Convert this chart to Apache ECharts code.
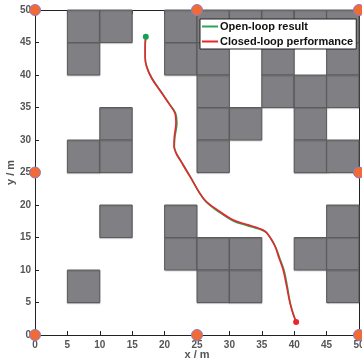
<!DOCTYPE html>
<html>
<head>
<meta charset="utf-8">
<script src="https://cdn.jsdelivr.net/npm/echarts@6/dist/echarts.min.js"></script>
<style>
  html, body { margin: 0; padding: 0; background: #fff; }
  #chart { width: 362px; height: 364px; }
</style>
</head>
<body>
<div id="chart"></div>
<script>
// Obstacle cells: lower-left corner of each occupied 5 m x 5 m square
const obstacleX = [5, 10, 20, 25, 30, 35, 40, 45,
                   5, 20, 25, 35, 45,
                   25, 35, 40, 45,
                   10, 25, 30, 40,
                   5, 10, 25, 40, 45,
                   10, 20, 45,
                   20, 25, 30, 40, 45,
                   5, 25, 30, 45];
const obstacleY = [45, 45, 45, 45, 45, 45, 45, 45,
                   40, 40, 40, 40, 40,
                   35, 35, 35, 35,
                   30, 30, 30, 30,
                   25, 25, 25, 25, 25,
                   15, 15, 15,
                   10, 10, 10, 10, 10,
                   5, 5, 5, 5];

// Landmark beacons around the map border
const beaconX = [0, 25, 50, 0, 50, 0, 25, 50];
const beaconY = [0, 0, 0, 25, 25, 50, 50, 50];

// Trajectories
const openLoopX = [17.1, 17.0, 17.0, 17.25, 18.05, 19.55, 20.85, 21.7, 21.9, 21.6, 21.5, 21.85, 22.45, 23.95, 26.1, 28.5, 30.6, 32.7, 34.6, 35.65, 36.45, 37.15, 37.7, 38.45, 38.95, 39.4, 39.85, 40.3];
const openLoopY = [45.9, 44.5, 42.7, 41.3, 39.5, 37.3, 35.4, 34.1, 32.6, 30.5, 29.0, 27.9, 26.9, 24.4, 20.8, 18.85, 17.55, 16.85, 16.3, 15.8, 14.8, 13.5, 12.0, 9.9, 7.4, 4.9, 3.3, 2.0];
const closedLoopX = [17.1, 17.0, 17.0, 17.2, 18.0, 19.5, 20.8, 21.6, 21.75, 21.5, 21.45, 21.8, 22.4, 23.9, 26.1, 28.5, 30.6, 32.7, 34.6, 35.6, 36.4, 37.1, 37.6, 38.3, 38.85, 39.35, 39.8, 40.3];
const closedLoopY = [45.9, 44.5, 42.7, 41.3, 39.5, 37.3, 35.4, 34.1, 32.6, 30.5, 29.0, 27.9, 26.9, 24.4, 20.9, 19.0, 17.7, 17.0, 16.4, 15.9, 14.8, 13.5, 12.0, 10.0, 7.4, 4.9, 3.3, 2.0];

const startPoint = [17.1, 45.9];
const goalPoint = [40.3, 2.0];

const CELL = 5;
const labelFont = 'Liberation Sans, Arial, sans-serif';

const zip = (xs, ys) => xs.map((x, i) => [x, ys[i]]);

const chart = echarts.init(document.getElementById('chart'), null, { renderer: 'canvas' });

const axisCommon = {
  type: 'value', min: 0, max: 50, interval: 5,
  axisLine: { show: true, onZero: false, lineStyle: { color: '#222', width: 1 } },
  axisTick: { show: true, inside: true, length: 4, lineStyle: { color: '#222' } },
  splitLine: { show: false },
  axisLabel: { show: true, color: '#555', fontWeight: 'bold', fontSize: 10, fontFamily: labelFont }
};

chart.setOption({
  animation: false,
  grid: { left: 35, right: 3, top: 10, bottom: 29, containLabel: false, outerBoundsMode: 'none' },
  xAxis: [
    Object.assign({}, axisCommon, {
      position: 'bottom',
      axisLabel: Object.assign({}, axisCommon.axisLabel, { margin: 5 }),
      name: 'x / m', nameLocation: 'middle', nameGap: 14, nameMoveOverlap: false,
      nameTextStyle: { color: '#555', fontWeight: 'bold', fontSize: 11, fontFamily: labelFont }
    }),
    Object.assign({}, axisCommon, { position: 'top', axisLabel: { show: false } })
  ],
  yAxis: [
    Object.assign({}, axisCommon, {
      position: 'left',
      axisLabel: Object.assign({}, axisCommon.axisLabel, { margin: 4 }),
      name: 'y / m', nameLocation: 'middle', nameGap: 19, nameMoveOverlap: false,
      nameTextStyle: { color: '#555', fontWeight: 'bold', fontSize: 11, fontFamily: labelFont }
    }),
    Object.assign({}, axisCommon, { position: 'right', axisLabel: { show: false } })
  ],
  legend: {
    show: true,
    orient: 'vertical',
    left: 200, top: 19,
    backgroundColor: '#fff',
    borderColor: '#222', borderWidth: 1,
    padding: [2, 3, 2, 2],
    itemGap: 4,
    itemWidth: 16, itemHeight: 2,
    icon: 'rect',
    textStyle: { color: '#111', fontWeight: 'bold', fontSize: 11, fontFamily: labelFont, padding: [0, 0, 0, -3] },
    data: ['Open-loop result', 'Closed-loop performance']
  },
  series: [
    {
      type: 'custom',
      name: 'obstacles',
      data: zip(obstacleX, obstacleY),
      z: 1,
      renderItem: function (params, api) {
        const x = api.value(0), y = api.value(1);
        const p0 = api.coord([x, y + CELL]);
        const p1 = api.coord([x + CELL, y]);
        return {
          type: 'rect',
          shape: { x: p0[0], y: p0[1], width: p1[0] - p0[0], height: p1[1] - p0[1] },
          style: {
            fill: '#808084', stroke: '#5c5c5f', lineWidth: 1,
            shadowColor: 'rgba(0,0,0,0.18)', shadowOffsetX: 0, shadowOffsetY: 1, shadowBlur: 1
          }
        };
      }
    },
    {
      type: 'line',
      name: 'Open-loop result',
      data: zip(openLoopX, openLoopY),
      smooth: 0.35,
      showSymbol: false, symbol: 'none',
      lineStyle: { color: '#2aa55a', width: 1.6 },
      itemStyle: { color: '#2aa55a' },
      z: 3
    },
    {
      type: 'line',
      name: 'Closed-loop performance',
      data: zip(closedLoopX, closedLoopY),
      smooth: 0.35,
      showSymbol: false, symbol: 'none',
      lineStyle: { color: '#e8262b', width: 1.6 },
      itemStyle: { color: '#e8262b' },
      z: 4
    },
    {
      type: 'scatter',
      name: 'start',
      data: [startPoint],
      symbolSize: 6,
      itemStyle: { color: '#13a152', opacity: 1 },
      z: 5
    },
    {
      type: 'scatter',
      name: 'goal',
      data: [goalPoint],
      symbolSize: 6,
      itemStyle: { color: '#e8262b', opacity: 1 },
      z: 5
    },
    {
      type: 'scatter',
      name: 'beacons',
      data: zip(beaconX, beaconY),
      symbolSize: 11,
      clip: false,
      itemStyle: { color: '#f26a36', borderColor: '#8a7fc0', borderWidth: 1, opacity: 1 },
      z: 6
    }
  ]
});
</script>
</body>
</html>
